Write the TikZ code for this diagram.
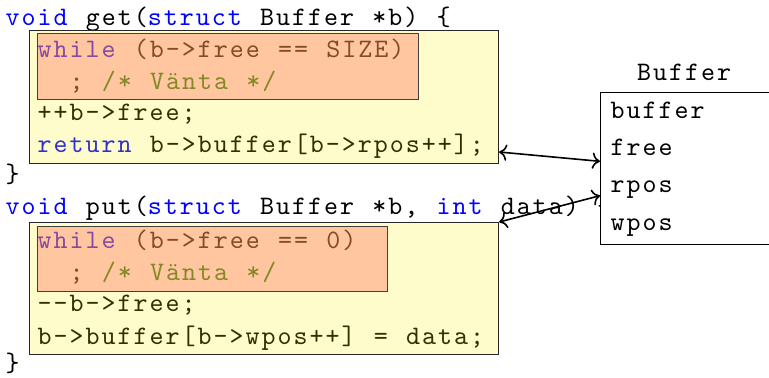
\documentclass[tikz,border=0pt]{standalone}
\usepackage{fontspec}
\setmonofont{lmmono10-regular.otf}[LetterSpace=7.5, WordSpace={1.143,0,0}]
\usetikzlibrary{positioning, arrows.meta, calc}

\definecolor{kwblue}{RGB}{0,0,255}
\definecolor{cmtgreen}{RGB}{0,128,0}
\definecolor{hotspot}{RGB}{255,117,95}
\newcommand{\kw}[1]{\textcolor{kwblue}{#1}}
\newcommand{\cmt}[1]{\textcolor{cmtgreen}{#1}}

\begin{document}
\begin{tikzpicture}[
    x=0.375pt, y=-0.375pt,
    % Define styles
    code/.style={anchor=base west, inner sep=0pt, font=\ttfamily},
    body/.style={draw=black!85, thin, fill=yellow, fill opacity=0.2, anchor=north west, inner sep=0pt},
    busy/.style={draw=black!75, thin, fill=hotspot, fill opacity=0.4, anchor=north west, inner sep=0pt},
    field/.style={code, text height=9.6pt, text depth=4pt},
    record/.style={draw, thin, fill=white, anchor=north west, inner sep=0pt},
    link/.style={{To}-{To}, semithick}
]
    \useasboundingbox (0,0) rectangle (769,377);

    % --- GET ---
    \node (getsig) [code] at (5,25) {\kw{void} get(\kw{struct} Buffer *b) \{};
    \node (getwhile) [code] at (37,57) {\kw{while} (b->free == SIZE)};
    \node (getsemi) [code] at (69,89) {; \cmt{/* Vänta */}};
    \node (getinc) [code] at (37,120) {++b->free;};
    \node (getret) [code] at (37,152) {\kw{return} b->buffer[b->rpos++];};
    \node (getend) [code] at (5,182) {\}};

    % --- PUT ---
    \node (putsig) [code] at (5,214) {\kw{void} put(\kw{struct} Buffer *b, \kw{int} data) \{};
    \node (putwhile) [code] at (37,248) {\kw{while} (b->free == 0)};
    \node (putsemi) [code] at (69,280) {; \cmt{/* Vänta */}};
    \node (putdec) [code] at (37,311) {--b->free;};
    \node (putstore) [code] at (37,344) {b->buffer[b->wpos++] = data;};
    \node (putend) [code] at (5,371) {\}};

    % --- HIGHLIGHTS (drawn over the code) ---
    \node (getbody) [body, minimum width=175.9pt, minimum height=49.9pt] at (29,30) {};
    \node (getwait) [busy, minimum width=142.9pt, minimum height=24.75pt] at (37,33) {};
    \node (putbody) [body, minimum width=175.9pt, minimum height=49.5pt] at (29,222) {};
    \node (putwait) [busy, minimum width=131.25pt, minimum height=24.4pt] at (37,226) {};

    % --- THE STRUCT ---
    \node (buf) [record, minimum width=67.5pt, minimum height=57pt] at (600,92) {};
    \node (bufname) [code, anchor=base] at (684,80) {Buffer};
    \node (bbuffer) [field] at (610,118) {buffer};
    \node (bfree) [field, below right=0pt and 0pt of bbuffer.south west] {free};
    \node (brpos) [field, below right=0pt and 0pt of bfree.south west] {rpos};
    \node (bwpos) [field, below right=0pt and 0pt of brpos.south west] {wpos};

    % --- DRAW CONNECTIONS ---
    \draw [link] (getbody.east |- getret.base) -- ($(buf.west |- bfree.base)+(0,6)$);
    \draw [link] (putbody.north east) -- ($(buf.west |- brpos.base)+(0,3)$);

\end{tikzpicture}
\end{document}
